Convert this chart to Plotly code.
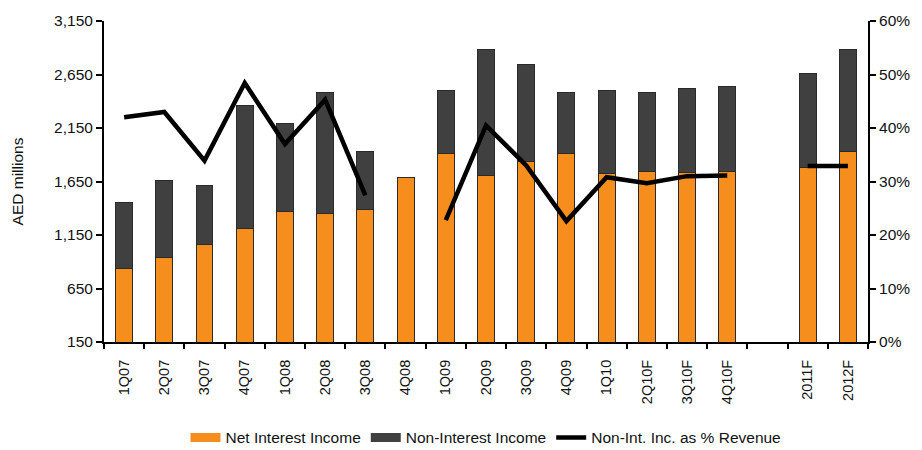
import plotly.graph_objects as go

# Quarterly / annual periods (blank slot separates quarterly from annual forecasts)
periods = ["1Q07", "2Q07", "3Q07", "4Q07", "1Q08", "2Q08", "3Q08", "4Q08",
           "1Q09", "2Q09", "3Q09", "4Q09", "1Q10", "2Q10F", "3Q10F", "4Q10F",
           " ", "2011F", "2012F"]

# AED millions
net_interest_income = [840, 937, 1061, 1214, 1371, 1353, 1393, 1690,
                       1916, 1707, 1836, 1916, 1722, 1740, 1731, 1740,
                       None, 1781, 1929]
non_interest_income = [615, 720, 547, 1148, 822, 1129, 536, None,
                       581, 1175, 905, 566, 775, 742, 791, 798,
                       None, 880, 956]

# Non-interest income share of total revenue, %
non_int_share = [42.0, 43.0, 33.9, 48.4, 37.0, 45.3, 27.4, None,
                 22.8, 40.5, 33.0, 22.6, 30.8, 29.7, 31.0, 31.1,
                 None, 32.9, 32.9]

left_ticks = [150, 650, 1150, 1650, 2150, 2650, 3150]
right_ticks = [0, 10, 20, 30, 40, 50, 60]
right_labels = [f"{v}%" for v in right_ticks]

FONT = "Liberation Sans, Arial, sans-serif"
ORANGE = "#F68E1E"
DARK = "#404040"
OUTLINE = "#2a2a2a"

fig = go.Figure()
fig.add_trace(go.Bar(
    x=periods, y=net_interest_income, name="Net Interest Income",
    marker=dict(color=ORANGE, line=dict(color=OUTLINE, width=1)),
    showlegend=False, legendgroup="nii",
))
fig.add_trace(go.Bar(
    x=periods, y=non_interest_income, name="Non-Interest Income",
    marker=dict(color=DARK, line=dict(color=OUTLINE, width=1)),
    showlegend=False, legendgroup="noni",
))
fig.add_trace(go.Scatter(
    x=periods, y=non_int_share, name="Non-Int. Inc. as % Revenue",
    yaxis="y2", mode="lines", connectgaps=False,
    line=dict(color="black", width=4.5), showlegend=False, legendgroup="share",
))

# Legend keys drawn as wide swatches
for name, color, width, group in [
    ("Net Interest Income", ORANGE, 9, "nii"),
    ("Non-Interest Income", DARK, 9, "noni"),
    ("Non-Int. Inc. as % Revenue", "black", 4.5, "share"),
]:
    fig.add_trace(go.Scatter(
        x=[None], y=[None], mode="lines", name=name, legendgroup=group,
        line=dict(color=color, width=width), hoverinfo="skip",
    ))

fig.update_layout(
    width=922, height=450,
    margin=dict(l=104, r=51, t=17, b=108),
    paper_bgcolor="white", plot_bgcolor="white",
    font=dict(family=FONT, size=15.5, color="#111111"),
    barmode="stack", bargap=0.58,
    showlegend=True,
    legend=dict(orientation="h", x=0.5, xanchor="center",
                yref="container", y=0.027, yanchor="middle",
                traceorder="normal", font=dict(size=15.5), itemwidth=30,
                tracegroupgap=0),
    xaxis=dict(
        type="category", tickangle=-90, tickson="boundaries",
        ticks="outside", ticklen=5, tickwidth=2, tickcolor="black",
        showline=True, linecolor="black", linewidth=2,
        showgrid=False, ticklabelstandoff=10, tickfont=dict(size=14.5),
    ),
    yaxis=dict(
        range=[150, 3150], tickvals=left_ticks, tickformat=",d",
        ticks="outside", ticklen=6, tickwidth=2, tickcolor="black",
        showline=True, linecolor="black", linewidth=2,
        showgrid=False, zeroline=False,
        title=dict(text="AED millions", standoff=27, font=dict(size=15.5)),
    ),
    yaxis2=dict(
        overlaying="y", side="right", range=[0, 60],
        tickmode="array", tickvals=right_ticks, ticktext=right_labels,
        ticks="outside", ticklen=6, tickwidth=2, tickcolor="black",
        showline=True, linecolor="black", linewidth=2,
        showgrid=False, zeroline=False,
    ),
)

fig.write_html("out.html")
